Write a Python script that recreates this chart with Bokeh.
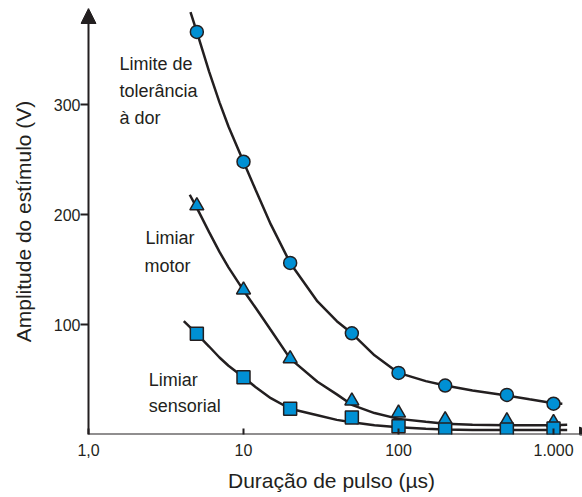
from bokeh.plotting import figure
from bokeh.models import Range1d, FixedTicker, Arrow, NormalHead, ColumnDataSource
from bokeh.core.properties import value
from bokeh.embed import file_html
from bokeh.resources import INLINE

INK = "#231f20"
BLUE = "#0090d4"
FONT = "Liberation Sans"

# ---- data ----
pulse_us = [5, 10, 20, 50, 100, 200, 500, 1000]
pain_v = [366, 248, 156, 92, 56, 44.5, 36, 28]
motor_v = [208, 131.5, 69, 30.5, 19.5, 13.5, 12.5, 11]
sensory_v = [91.5, 52, 23.4, 15.5, 7.5, 4.5, 4.5, 5.5]

pain_curve_x = [4.55, 5, 6, 7, 8, 10, 12, 15, 20, 30, 40, 50, 70, 100, 150, 200, 300, 500, 700, 1000, 1140]
pain_curve_v = [384, 366, 330, 302, 280, 248, 222, 191, 156, 121, 103, 92, 72, 56, 48.5, 44.5, 40, 35.5, 32, 28.5, 28]

motor_curve_x = [4.5, 5, 6, 7, 8, 10, 12, 15, 20, 30, 40, 50, 70, 100, 150, 200, 300, 500, 700, 1000, 1225]
motor_curve_v = [218, 206, 184, 166, 152, 131, 115, 95, 69, 48, 36.5, 27, 19.5, 14.2, 11.5, 9.8, 8.8, 8.5, 8.5, 8.5, 8.8]

sensory_curve_x = [4.12, 5, 6, 7, 8, 10, 12, 15, 20, 30, 40, 50, 70, 100, 150, 200, 300, 500, 700, 1000, 1225]
sensory_curve_v = [103, 91.5, 80, 70, 62.5, 52, 43, 33, 23.4, 17.5, 13.3, 11.2, 8.5, 6.7, 5.2, 4.5, 4.2, 4, 4, 4, 4]

x_tick_values = [1, 10, 100, 1000]
x_tick_labels = ["1,0", "10", "100", "1.000"]
y_tick_values = [100, 200, 300]

note_text = ["Limite de", "tolerância", "à dor", "Limiar", "motor", "Limiar", "sensorial"]
note_x = [1.585, 1.585, 1.585, 2.33, 2.30, 2.45, 2.45]
note_y = [336.8, 312.3, 287.7, 179.1, 153.6, 50, 25.7]

x_origin = 1
x_min = 0.888
x_max = 1538
x_arrow_tip = 1840
y_max = 387.3

p = figure(width=582, height=497, x_axis_type="log",
           x_range=Range1d(x_min, x_max), y_range=Range1d(0, y_max),
           output_backend="svg", toolbar_location=None,
           min_border_left=80, min_border_right=0, min_border_top=8, min_border_bottom=63)
p.outline_line_color = None
p.grid.visible = False
p.background_fill_color = "white"
p.border_fill_color = "white"

# axes
xa = p.xaxis[0]
xa.ticker = FixedTicker(ticks=x_tick_values, minor_ticks=[])
xa.major_label_overrides = {v: l for v, l in zip(x_tick_values, x_tick_labels)}
xa.axis_label = "Duração de pulso (µs)"
xa.major_tick_in = 6
xa.major_tick_out = 0
xa.major_label_standoff = 9
xa.axis_label_standoff = 10

ya = p.yaxis[0]
ya.ticker = FixedTicker(ticks=y_tick_values, minor_ticks=[])
ya.axis_label = "Amplitude do estímulo (V)"
ya.major_tick_in = 8
ya.major_tick_out = 0
ya.major_label_standoff = 0
ya.axis_label_standoff = 16

for ax in (xa, ya):
    ax.minor_tick_in = 0
    ax.minor_tick_out = 0
    ax.axis_line_color = None   # axis lines are drawn by the arrows below
    ax.major_tick_line_color = INK
    ax.major_tick_line_width = 2
    ax.major_label_text_font = FONT
    ax.major_label_text_font_size = "16px"
    ax.major_label_text_color = INK
    ax.axis_label_text_font = FONT
    ax.axis_label_text_font_size = "21px"
    ax.axis_label_text_font_style = "normal"
    ax.axis_label_text_color = INK

# axis lines with arrow heads
p.add_layout(Arrow(end=NormalHead(size=15, fill_color=INK, line_color=INK, line_width=1),
                   x_start=x_origin, y_start=0, x_end=x_origin, y_end=y_max,
                   line_color=INK, line_width=2))
p.add_layout(Arrow(end=NormalHead(size=15, fill_color=INK, line_color=INK, line_width=1),
                   x_start=x_origin, y_start=0, x_end=x_arrow_tip, y_end=0,
                   line_color=INK, line_width=2))

# curves
p.line(pain_curve_x, pain_curve_v, line_color=INK, line_width=2.5)
p.line(motor_curve_x, motor_curve_v, line_color=INK, line_width=2.5)
p.line(sensory_curve_x, sensory_curve_v, line_color=INK, line_width=2.5)

# markers
p.scatter(pulse_us, pain_v, marker="circle", size=13, fill_color=BLUE, line_color=INK, line_width=1.5)
p.scatter(pulse_us, motor_v, marker="triangle", size=14, fill_color=BLUE, line_color=INK, line_width=1.5)
p.scatter(pulse_us, sensory_v, marker="square", size=13, fill_color=BLUE, line_color=INK, line_width=1.5)

# notes
src = ColumnDataSource(dict(x=note_x, y=note_y, t=note_text))
p.text(x="x", y="y", text="t", source=src, text_font=value(FONT), text_font_size="18px",
       text_color=INK, text_align="left", text_baseline="alphabetic")

open("out.html", "w").write(file_html(p, INLINE))
